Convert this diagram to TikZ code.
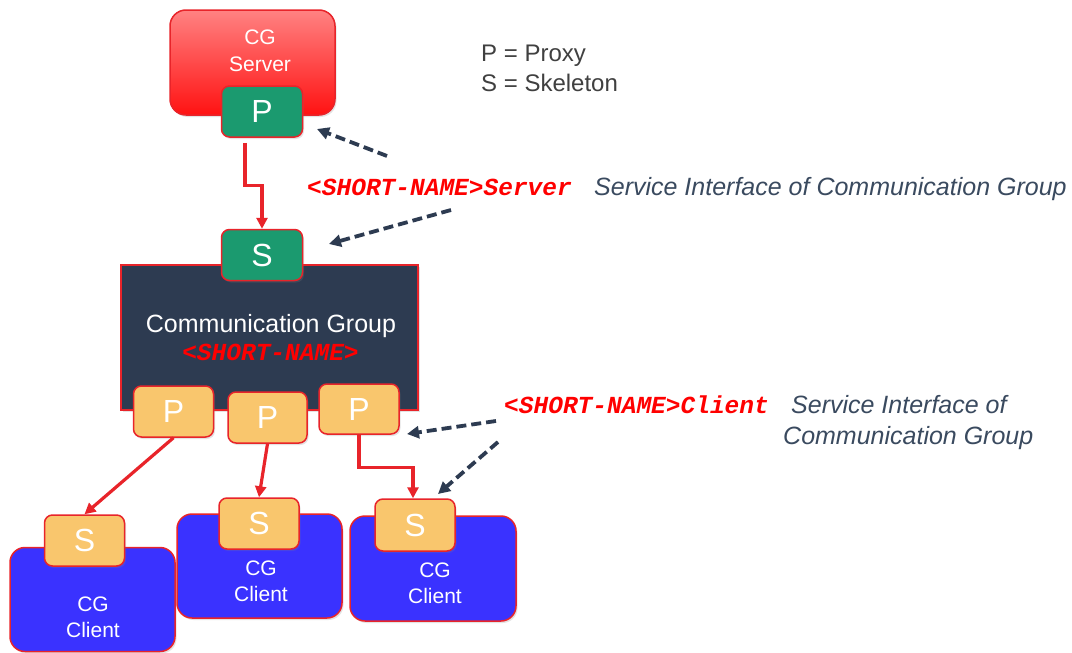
\documentclass[tikz,border=0pt]{standalone}
\usepackage{fontspec}
\setmainfont{Liberation Sans}
\setmonofont{Liberation Mono}
\usetikzlibrary{arrows.meta,calc,shadows}
\definecolor{pgreen}{HTML}{1B9A6F}
\definecolor{porange}{HTML}{F9C66D}
\definecolor{cblue}{HTML}{3A32FF}
\definecolor{navy}{HTML}{2D3B51}
\definecolor{cgred}{HTML}{E8242A}
\definecolor{srvtop}{HTML}{FF8282}
\definecolor{srvbot}{HTML}{FF1212}
\definecolor{desctext}{HTML}{3A4A5F}
\definecolor{legtext}{HTML}{404040}
\definecolor{codered}{HTML}{FF0000}
\begin{document}
\begin{tikzpicture}[x=1pt,y=-1pt,
  shade/.style={drop shadow={shadow xshift=1.5pt, shadow yshift=-2pt, opacity=0.22}},
  port/.style={draw=cgred, line width=1.5pt, rounded corners=8pt, inner sep=0pt, text=white,
    font=\fontsize{32}{32}\selectfont, shade},
  gport/.style={port, fill=pgreen, minimum width=81pt, minimum height=51pt},
  oport/.style={port, fill=porange, minimum width=80pt, minimum height=51pt},
  client/.style={draw=cgred, line width=1.5pt, fill=cblue, rounded corners=15pt,
    minimum width=165pt, minimum height=104pt, inner sep=0pt, shade},
  wtext/.style={text=white, font=\fontsize{21}{26}\selectfont, inner sep=0pt, anchor=base},
  code/.style={text=codered, font=\fontsize{24.5}{28}\selectfont\ttfamily\bfseries\itshape, inner sep=0pt, anchor=base west},
  desc/.style={text=desctext, font=\fontsize{25}{30}\selectfont\itshape, inner sep=0pt, anchor=base west},
  legend/.style={text=legtext, font=\fontsize{24}{28}\selectfont, inner sep=0pt, anchor=base west},
  redarrow/.style={draw=cgred, line width=3.2pt, -{Triangle[length=11pt,width=11pt]}},
  dasharrow/.style={draw=navy, line width=3.8pt, dash pattern=on 10pt off 5pt,
    -{Triangle[length=12pt,width=12pt]}}
]
\useasboundingbox (0,0) rectangle (1072,653);
\fill[white] (0,0) rectangle (1072,653);

% server
\node[draw=cgred, line width=1.5pt, rounded corners=16pt, top color=srvtop, bottom color=srvbot,
  minimum width=165pt, minimum height=105pt, inner sep=0pt, shade] (server) at (252.5,62.5) {};
\node[wtext] (srvt1) at (260,45) {CG};
\node[wtext] (srvt2) at (260,71) {Server};
\node[gport] (p0) at (262,111.5) {P};

% communication group
\node[draw=cgred, line width=1.5pt, fill=navy, minimum width=297pt, minimum height=145pt, inner sep=0pt, shade] (cg) at (269.5,337.5) {};
\node[text=white, font=\fontsize{25}{30}\selectfont, inner sep=0pt, anchor=base] (cgt) at (271,332) {Communication Group};
\node[code, anchor=base] (cgn) at (270.5,360) {<SHORT-NAME>};
\node[gport] (s0) at (262,255) {S};

\node[oport] (p1) at (173.5,411.5) {P};
\node[oport, minimum width=79pt] (p2) at (267.5,417.5) {P};
\node[oport, minimum height=50pt] (p3) at (359,409) {P};

% clients
\node[client] (c1) at (92.5,599.5) {};
\node[wtext] (c1a) at (93,611) {CG};
\node[wtext] (c1b) at (93,637) {Client};
\node[oport] (s1) at (84.5,540.5) {S};

\node[client] (c2) at (259.5,566) {};
\node[wtext] (c2a) at (261,575) {CG};
\node[wtext] (c2b) at (261,601) {Client};
\node[oport, minimum width=80pt] (s2) at (259,523.5) {S};

\node[client, minimum width=166pt, minimum height=105pt] (c3) at (433,568.5) {};
\node[wtext] (c3a) at (435,577) {CG};
\node[wtext] (c3b) at (435,603) {Client};
\node[oport, minimum height=52pt] (s3) at (415,525) {S};

% red connectors
\draw[redarrow, shorten <=5pt] ([xshift=-17pt]p0.south) -- ++(0,48) -| (s0.north);
\draw[redarrow] (p1.south) -- (s1.north);
\draw[redarrow] (p2.south) -- (s2.north);
\draw[redarrow] (p3.south) -- ++(0,33) -| ([xshift=-2pt]s3.north);

% legend and labels
\node[legend] (leg1) at (481,61) {P = Proxy};
\node[legend] (leg2) at (481,91) {S = Skeleton};
\node[code] (srvcode) at (307,195) {<SHORT-NAME>Server};
\node[desc] (srvdesc) at (594,195) {Service Interface of Communication Group};
\node[code] (clicode) at (504,413) {<SHORT-NAME>Client};
\node[desc] (clidesc1) at (791,413) {Service Interface of};
\node[desc] (clidesc2) at (783,444) {Communication Group};

% dashed pointers
\coordinate (d1s) at (387,156);
\coordinate (d1e) at (317,129);
\coordinate (d2s) at (451,210);
\coordinate (d2e) at (329,244);
\coordinate (d3s) at (496,421);
\coordinate (d3e) at (407,434);
\coordinate (d4s) at (498,442);
\coordinate (d4e) at (438,494);
\draw[dasharrow] (d1s) -- (d1e);
\draw[dasharrow] (d2s) -- (d2e);
\draw[dasharrow] (d3s) -- (d3e);
\draw[dasharrow] (d4s) -- (d4e);
\end{tikzpicture}
\end{document}
